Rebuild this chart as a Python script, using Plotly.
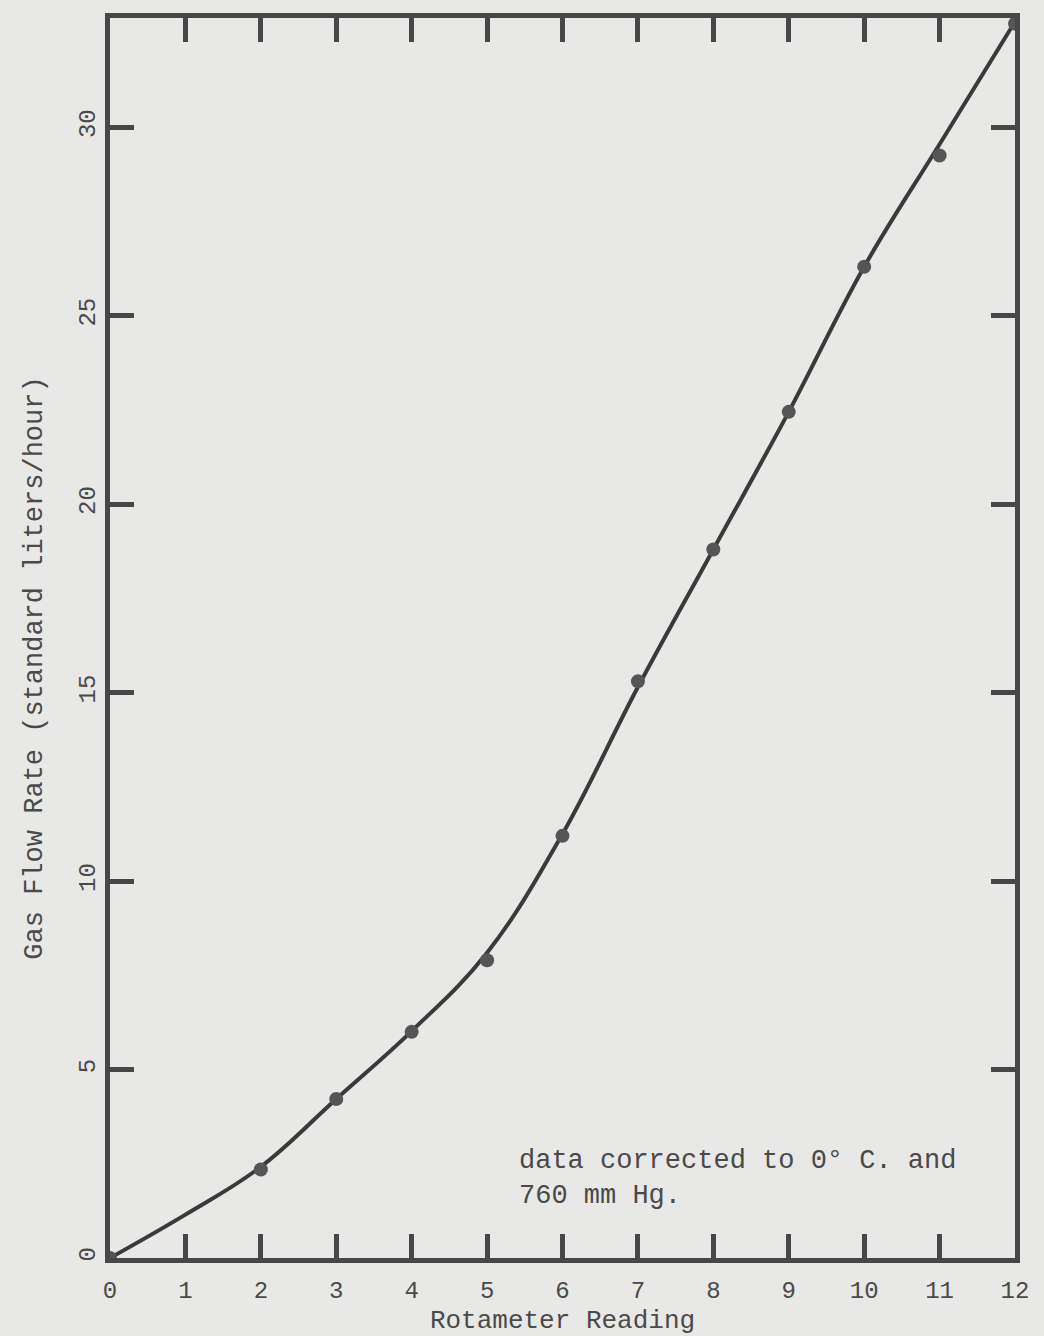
import plotly.graph_objects as go

# measured points (rotameter reading vs. gas flow rate)
reading = [0, 2, 3, 4, 5, 6, 7, 8, 9, 10, 11, 12]
flow = [0, 2.35, 4.22, 6.0, 7.9, 11.2, 15.3, 18.8, 22.45, 26.3, 29.25, 32.75]

# hand-drawn calibration curve
curve_x = [0, 1, 2, 3, 4, 5, 6, 7, 8, 9, 10, 11, 12]
curve_y = [0, 1.15, 2.42, 4.22, 6.02, 8.1, 11.25, 15.15, 18.8, 22.45, 26.3, 29.55, 32.8]

x_ticks = list(range(0, 13))
y_ticks = [0, 5, 10, 15, 20, 25, 30]

ink = "#3a3a3a"
txt = "#4a4a4a"
frame = "#474747"
bg = "#e8e8e6"
font_family = "Liberation Mono, DejaVu Sans Mono, monospace"

fig = go.Figure()
fig.add_trace(go.Scatter(
    x=curve_x, y=curve_y, mode="lines",
    line=dict(color=ink, width=4, shape="spline", smoothing=1.1),
    hoverinfo="skip", showlegend=False,
))
fig.add_trace(go.Scatter(
    x=reading, y=flow, mode="markers",
    marker=dict(color="#555555", size=14, line=dict(width=0)),
    showlegend=False,
))

fig.add_annotation(
    x=5.4, y=2.1, xref="x", yref="y", xanchor="left", yanchor="middle",
    text="data corrected to 0° C. and<br>760 mm Hg.", align="left",
    showarrow=False, font=dict(family=font_family, size=27, color=txt),
)

# y-axis title (rotated, placed like the typed original)
fig.add_annotation(
    x=-0.083, y=0.476, xref="paper", yref="paper",
    text="Gas Flow Rate (standard liters/hour)", textangle=-90,
    showarrow=False, xanchor="center", yanchor="middle",
    font=dict(family=font_family, size=27, color=txt),
)

axis_common = dict(
    showline=True, linecolor=frame, linewidth=5, mirror="ticks",
    ticks="inside", ticklen=24, tickwidth=5, tickcolor=frame,
    showgrid=False, zeroline=False, automargin=False,
    tickfont=dict(family=font_family, size=24, color=txt),
)

fig.update_xaxes(
    range=[0, 12], tickvals=x_ticks, ticktext=[str(v) for v in x_ticks],
    ticklabelstandoff=6,
    title=dict(text="Rotameter Reading", font=dict(family=font_family, size=26, color=txt), standoff=8),
    **axis_common,
)
fig.update_yaxes(
    range=[0, 32.9], tickvals=y_ticks, ticktext=[str(v) for v in y_ticks],
    tickangle=-90,
    **axis_common,
)

fig.update_layout(
    width=1044, height=1336,
    margin=dict(l=110, r=29, t=18, b=78),
    paper_bgcolor=bg, plot_bgcolor=bg,
)

fig.write_html("out.html", config={"displayModeBar": False})

with open("out.html", "r", encoding="utf-8") as f:
    html = f.read()
html = html.replace("<body>", "<body style=\"margin:0;padding:0;overflow:hidden;background:#e8e8e6\">", 1)
with open("out.html", "w", encoding="utf-8") as f:
    f.write(html)
